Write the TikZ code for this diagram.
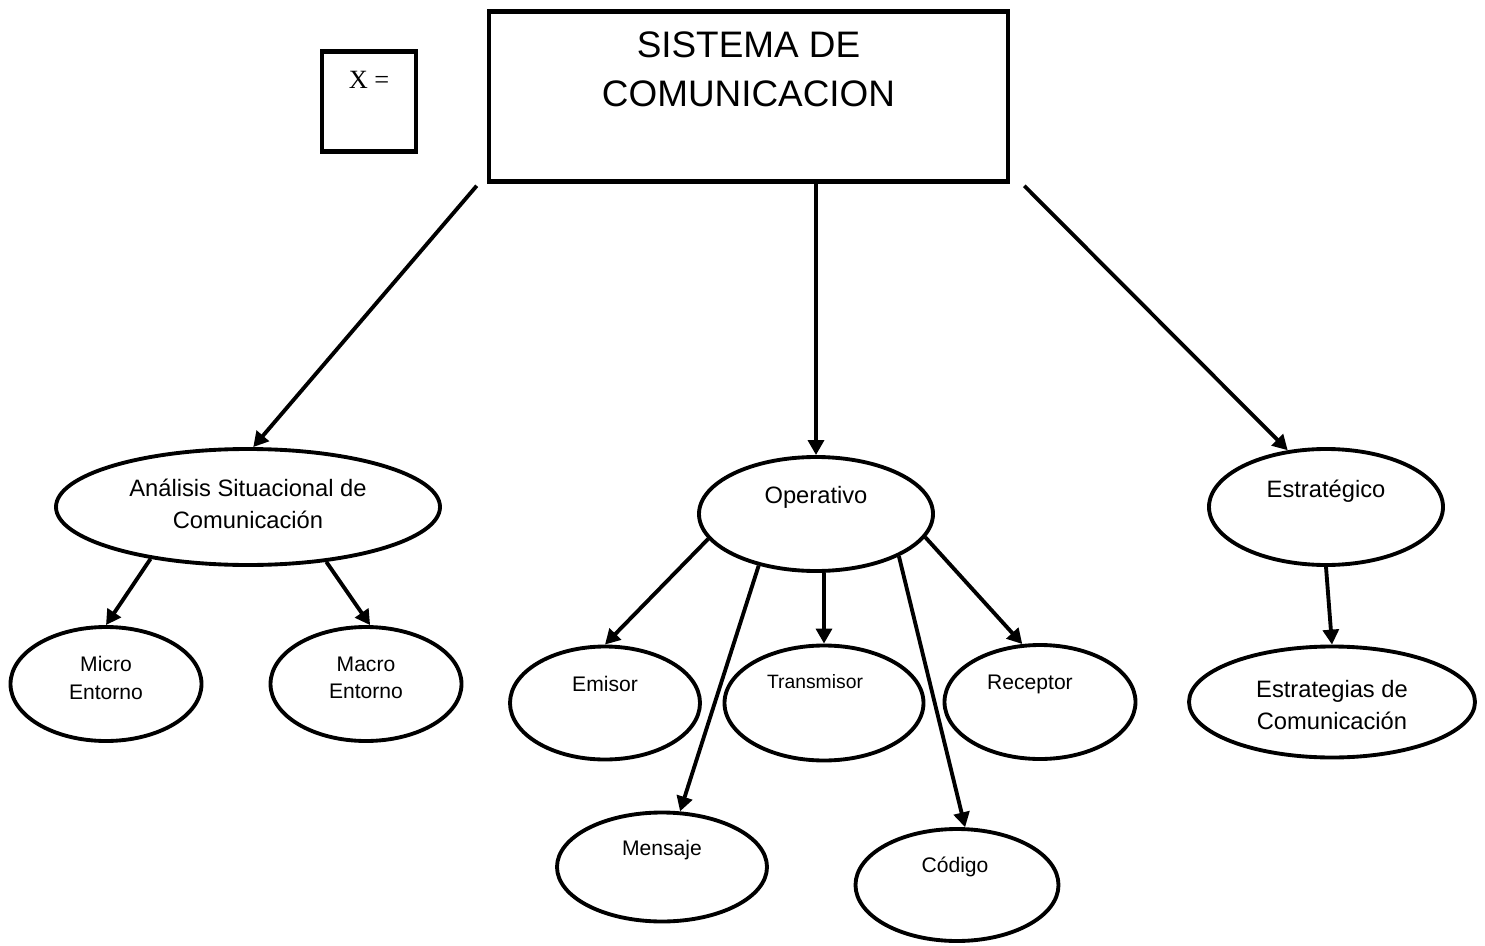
\documentclass[tikz,border=0pt]{standalone}
\usepackage{fontspec}
\setmainfont{Liberation Sans}
\newfontfamily\timesfont{Liberation Serif}
\usetikzlibrary{arrows.meta,shapes.geometric,calc}

\begin{document}
\begin{tikzpicture}[x=0.02cm,y=-0.02cm,
  shape line/.style={draw, line width=2.2pt},
  frame/.style 2 args={rectangle, draw, line width=2.6pt, minimum width=#1*0.02cm, minimum height=#2*0.02cm, inner sep=0pt},
  bubble/.style 2 args={ellipse, shape line, minimum width=#1*0.02cm, minimum height=#2*0.02cm, inner sep=0pt},
  link/.style={line width=2.2pt, -{Triangle[length=8.5pt,width=9pt]}},
  lbl/.style={inner sep=0pt, align=center},
  big/.style={font=\fontsize{13.5}{18}\selectfont},
  mid/.style={font=\fontsize{12}{15.5}\selectfont},
  small/.style={font=\fontsize{11}{13}\selectfont},
]
\useasboundingbox (0,0) rectangle (1485,946);

% title box and the small "X =" box
\node[frame={519}{170}] (top) at (748.5,96.5) {};
\node[lbl, font=\fontsize{21}{28}\selectfont] (title) at (748.5,69) {SISTEMA DE\\COMUNICACION};
\node[frame={94}{100}] (xbox) at (369,101.5) {};
\node[lbl, font=\timesfont\fontsize{15}{17}\selectfont] (xlabel) at (369,80) {X =};

% first level
\node[bubble={384}{116}] (analisis) at (248,507) {};
\node[lbl, big] (analisisT) at (248,504) {Análisis Situacional de\\Comunicación};
\node[bubble={234}{114}] (operativo) at (816,514) {};
\node[lbl, big] (operativoT) at (816,497) {Operativo};
\node[bubble={234}{116}] (estrategico) at (1326,507) {};
\node[lbl, big] (estrategicoT) at (1326,491) {Estratégico};

% second level
\node[bubble={191}{114}] (micro) at (106,684) {};
\node[lbl, mid] (microT) at (106,678) {Micro\\Entorno};
\node[bubble={191}{114}] (macro) at (366,684) {};
\node[lbl, mid] (macroT) at (366,678) {Macro\\Entorno};

\node[bubble={190}{113}] (emisor) at (605,703) {};
\node[lbl, mid] (emisorT) at (605,684) {Emisor};
\node[bubble={199}{115}] (transmisor) at (824,703) {};
\node[lbl, small] (transmisorT) at (815,682) {Transmisor};
\node[bubble={191}{114}] (receptor) at (1040,702) {};
\node[lbl, mid] (receptorT) at (1030,684) {Receptor};
\node[bubble={210}{109}] (mensaje) at (662,867) {};
\node[lbl, mid] (mensajeT) at (662,850) {Mensaje};
\node[bubble={203}{112}] (codigo) at (957,885) {};
\node[lbl, mid] (codigoT) at (955,867) {Código};

\node[bubble={286}{111}] (estrategias) at (1332,702) {};
\node[lbl, big] (estrategiasT) at (1332,705) {Estrategias de\\Comunicación};

% connectors
\draw[link] ($(top.south west)+(-10,2)$) -- (analisis.85);
\draw[link] (top.south -| operativo.north) -- (operativo.north);
\draw[link] ($(top.south east)+(14,2)$) -- (estrategico.124);

\draw[link] (analisis.208) -- (micro.north);
\draw[link] (analisis.325) -- (macro.86);

\draw[link] (operativo.193) -- (emisor.north);
\draw[link] (operativo.222) -- (mensaje.72);
\draw[link] (operativo.south -| transmisor.north) -- (transmisor.north);
\draw[link] (operativo.333) -- (codigo.82);
\draw[link] (operativo.348) -- (receptor.107);

\draw[link] (estrategico.south) -- (estrategias.north);
\end{tikzpicture}
\end{document}
